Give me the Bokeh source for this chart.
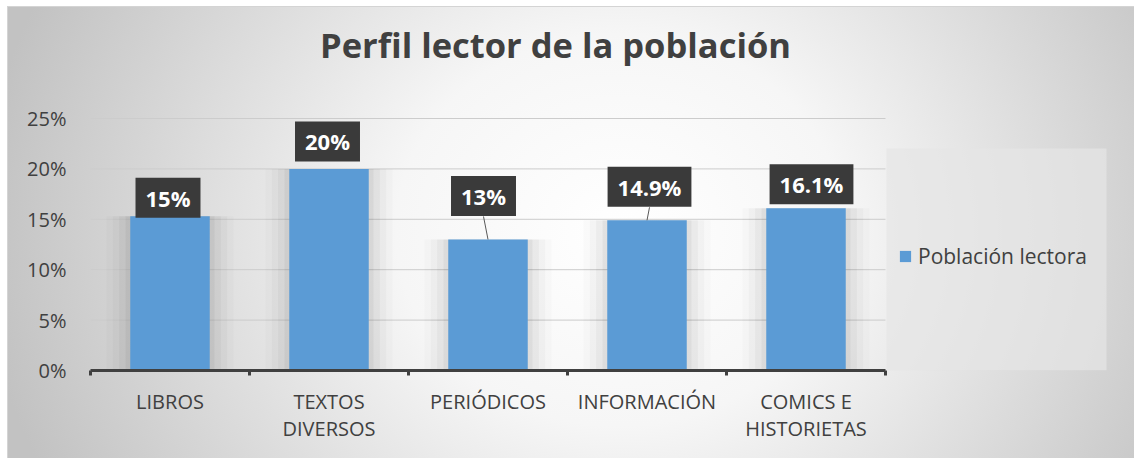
from bokeh.plotting import figure
from bokeh.models import Range1d, FixedTicker, Label, BoxAnnotation, Legend, LegendItem
from bokeh.embed import file_html
from bokeh.resources import INLINE

# ---------------- data ----------------
categories = ["LIBROS", "TEXTOS\nDIVERSOS", "PERIÓDICOS", "INFORMACIÓN", "COMICS E\nHISTORIETAS"]
values = [15.3, 20.0, 13.0, 14.9, 16.1]
value_labels = ["15%", "20%", "13%", "14.9%", "16.1%"]
y_ticks = [0, 5, 10, 15, 20, 25]
y_tick_labels = ["0%", "5%", "10%", "15%", "20%", "25%"]
series_name = "Población lectora"
title_text = "Perfil lector de la población"

# ---------------- style / layout ----------------
label_dx = [-2, -1.5, -4.5, 2.5, 5.5]      # px offset of data-label boxes
label_dy = [18.5, 27.5, 43.5, 33.5, 24]    # px above bar top
label_leader = [False, False, True, True, False]
BOX_HALF_H = 20.5

W, H = 1134, 458
ML, MB = 90, 88                 # left / bottom borders (axes)
PLOT_W, PLOT_H = 795, 252       # pixel size of the category area / 0..25 area
FW, FH = W - ML, H - MB         # frame covers the rest (title and legend live inside it)
TXT = "#404040"
FONT = "Open Sans"
BAR = "#5B9BD5"

n = len(categories)
ymin, ymax = y_ticks[0], y_ticks[-1]
centers = [i + 0.5 for i in range(n)]
px_x = PLOT_W / n
px_y = PLOT_H / (ymax - ymin)

p = figure(width=W, height=H,
           x_range=Range1d(0, n + (FW - PLOT_W) / px_x),
           y_range=Range1d(ymin, ymax + (FH - PLOT_H) / px_y),
           output_backend="svg", toolbar_location=None,
           min_border_left=ML, min_border_right=0, min_border_top=0, min_border_bottom=MB)
p.border_fill_color = None
p.background_fill_color = None
p.outline_line_color = None
p.styles = {"background": (
    "linear-gradient(#ffffff,#ffffff) left top / 7px 100% no-repeat, "
    "linear-gradient(#ffffff,#ffffff) left top / 100% 6px no-repeat, "
    "linear-gradient(#d4d4d4,#d4d4d4) 7px 6px / 100% 1px no-repeat, "
    "linear-gradient(#d4d4d4,#d4d4d4) 7px 6px / 1px 100% no-repeat, "
    "radial-gradient(ellipse 640px 560px at 620px 230px, #ffffff 0%, #f6f6f6 35%, #c2c2c2 100%)")}

# grid lines (only over the category area)
p.segment(x0=[0] * len(y_ticks[1:]), x1=[n] * len(y_ticks[1:]), y0=y_ticks[1:], y1=y_ticks[1:],
          line_color="#cccccc", line_width=1)

# bar shadows
for w, a in [(0.80, 0.015), (0.72, 0.022), (0.64, 0.03), (0.56, 0.045)]:
    p.vbar(x=centers, top=values, width=w, color="black", alpha=a, line_color=None)
bars = p.vbar(x=centers, top=values, width=0.5, color=BAR, line_color=None)

# axes
xa = p.xaxis[0]
xa.bounds = (0, n)
xa.ticker = FixedTicker(ticks=centers, minor_ticks=list(range(n + 1)))
xa.major_label_overrides = {c: cat for c, cat in zip(centers, categories)}
xa.major_tick_line_color = None
xa.major_tick_out = 0
xa.minor_tick_line_color = TXT
xa.minor_tick_line_width = 3
xa.minor_tick_out = 5
xa.minor_tick_in = 0
xa.axis_line_color = TXT
xa.axis_line_width = 3
xa.major_label_standoff = 12
xa.major_label_text_font = FONT
xa.major_label_text_font_size = "20px"
xa.major_label_text_line_height = 1.0
xa.major_label_text_color = TXT

ya = p.yaxis[0]
ya.bounds = (ymin, ymax)
ya.ticker = FixedTicker(ticks=y_ticks)
ya.major_label_overrides = {t: l for t, l in zip(y_ticks, y_tick_labels)}
ya.axis_line_color = None
ya.major_tick_line_color = None
ya.minor_tick_line_color = None
ya.major_tick_out = 0
ya.major_label_standoff = 24
ya.major_label_text_font = FONT
ya.major_label_text_font_size = "20px"
ya.major_label_text_color = TXT

p.xgrid.grid_line_color = None
p.ygrid.grid_line_color = None

# leader lines
lx0, ly0, lx1, ly1 = [], [], [], []
for i in range(n):
    if label_leader[i]:
        lx0.append(centers[i] + label_dx[i] / px_x)
        ly0.append(values[i] + (label_dy[i] - BOX_HALF_H) / px_y)
        lx1.append(centers[i])
        ly1.append(values[i])
p.segment(x0=lx0, y0=ly0, x1=lx1, y1=ly1, line_color="#595959", line_width=1)

# data labels (with a soft shadow)
for i in range(n):
    p.add_layout(Label(x=centers[i], y=values[i], x_offset=label_dx[i] + 3, y_offset=label_dy[i] - 3,
                       text=value_labels[i], text_align="center", text_baseline="middle",
                       text_font=FONT, text_font_style="bold", text_font_size="22px",
                       text_color="#000000", text_alpha=0.0,
                       background_fill_color="#000000", background_fill_alpha=0.15, padding=(10, 5)))
    p.add_layout(Label(x=centers[i], y=values[i], x_offset=label_dx[i], y_offset=label_dy[i],
                       text=value_labels[i], text_align="center", text_baseline="middle",
                       text_font=FONT, text_font_style="bold", text_font_size="22px",
                       text_color="white", background_fill_color="#3a3a3a", padding=(10, 5)))

# title
p.add_layout(Label(x=465, y=PLOT_H + 74, x_units="screen", y_units="screen", text=title_text,
                   text_align="center", text_baseline="middle", text_font=FONT,
                   text_font_style="bold", text_font_size="34.5px", text_color=TXT))

# legend box + legend
p.add_layout(BoxAnnotation(left=PLOT_W + 1, right=PLOT_W + 221, bottom=0, top=222,
                           left_units="screen", right_units="screen", bottom_units="screen", top_units="screen",
                           fill_color="#e6e6e6", fill_alpha=0.7, line_color=None))
legend = Legend(items=[LegendItem(label=series_name, renderers=[bars])], location=(PLOT_W + 13, 100),
                padding=0, margin=0, glyph_width=14, glyph_height=14, label_standoff=6,
                label_text_font=FONT, label_text_font_size="21px", label_text_color=TXT,
                background_fill_alpha=0, border_line_color=None)
p.add_layout(legend)

open("out.html", "w").write(file_html(p, INLINE))
